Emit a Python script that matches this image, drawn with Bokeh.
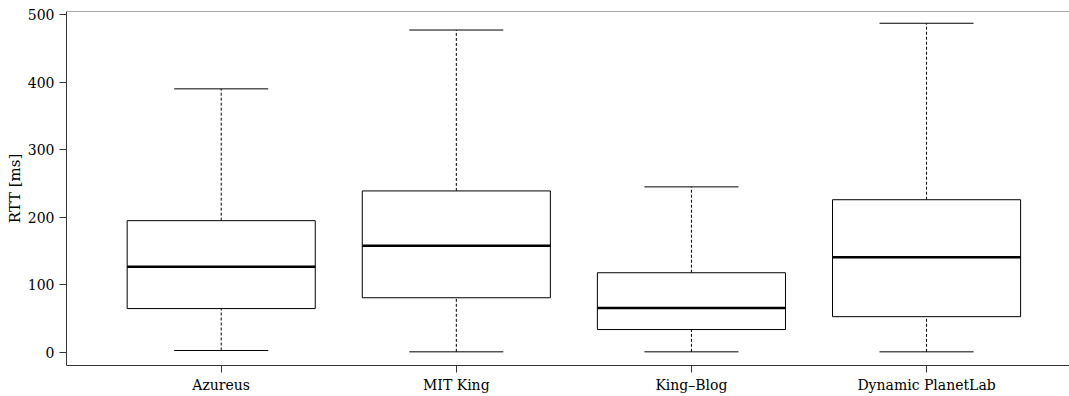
from bokeh.plotting import figure
from bokeh.models import FixedTicker, Span, Range1d, ColumnDataSource
from bokeh.embed import file_html
from bokeh.resources import INLINE

categories = ["Azureus", "MIT King", "King\u2013Blog", "Dynamic PlanetLab"]
lower = [3, 1, 1, 1]
q1 = [65, 81, 34, 53]
median = [127, 158, 66, 141]
q3 = [195, 239, 118, 226]
upper = [390, 477, 245, 487]
y_ticks = [0, 100, 200, 300, 400, 500]

pos = list(range(1, len(categories) + 1))
box_half = 0.4
cap_half = 0.2

src = ColumnDataSource(dict(
    x=pos,
    left=[x - box_half for x in pos], right=[x + box_half for x in pos],
    cl=[x - cap_half for x in pos], cr=[x + cap_half for x in pos],
    lower=lower, q1=q1, median=median, q3=q3, upper=upper,
))

FONT = "DejaVu Serif"
Y0, Y1 = -19.2, 504.4

p = figure(width=1069, height=396, output_backend="svg", toolbar_location=None,
           x_range=Range1d(0.342, 4.608), y_range=Range1d(Y0, Y1),
           min_border_left=66, min_border_right=0, min_border_top=11, min_border_bottom=31)
p.outline_line_color = None
p.xgrid.visible = False
p.ygrid.visible = False
p.background_fill_color = "white"

# whiskers (dashed)
p.segment(x0="x", x1="x", y0="q3", y1="upper", source=src, line_color="black",
          line_width=1, line_dash="3 2")
p.segment(x0="x", x1="x", y0="lower", y1="q1", source=src, line_color="black",
          line_width=1, line_dash="3 2")
# caps
p.segment(x0="cl", x1="cr", y0="upper", y1="upper", source=src, line_color="black", line_width=1)
p.segment(x0="cl", x1="cr", y0="lower", y1="lower", source=src, line_color="black", line_width=1)
# boxes
p.quad(left="left", right="right", bottom="q1", top="q3", source=src,
       fill_color="white", line_color="black", line_width=1)
# medians
p.segment(x0="left", x1="right", y0="median", y1="median", source=src,
          line_color="black", line_width=2.5)

# top frame line
p.add_layout(Span(location=Y1, dimension="width", line_color="#555555", line_width=1))

for ax in (p.xaxis[0], p.yaxis[0]):
    ax.axis_line_color = "#333333"
    ax.major_tick_line_color = "#333333"
    ax.major_tick_in = 0
    ax.major_tick_out = 7
    ax.minor_tick_line_color = None
    ax.major_label_text_font = FONT
    ax.major_label_text_font_size = "14px"
    ax.major_label_text_color = "black"

p.xaxis[0].ticker = FixedTicker(ticks=pos)
p.xaxis[0].major_label_overrides = {i + 1: c for i, c in enumerate(categories)}
p.xaxis[0].major_label_standoff = 4

p.yaxis[0].ticker = FixedTicker(ticks=y_ticks)
p.yaxis[0].major_label_orientation = "horizontal"
p.yaxis[0].major_label_standoff = 5
p.yaxis[0].axis_label = "RTT [ms]"
p.yaxis[0].axis_label_text_font = FONT
p.yaxis[0].axis_label_text_font_size = "15px"
p.yaxis[0].axis_label_text_font_style = "normal"
p.yaxis[0].axis_label_text_color = "black"
p.yaxis[0].axis_label_standoff = 1

open("out.html", "w").write(file_html(p, INLINE))
